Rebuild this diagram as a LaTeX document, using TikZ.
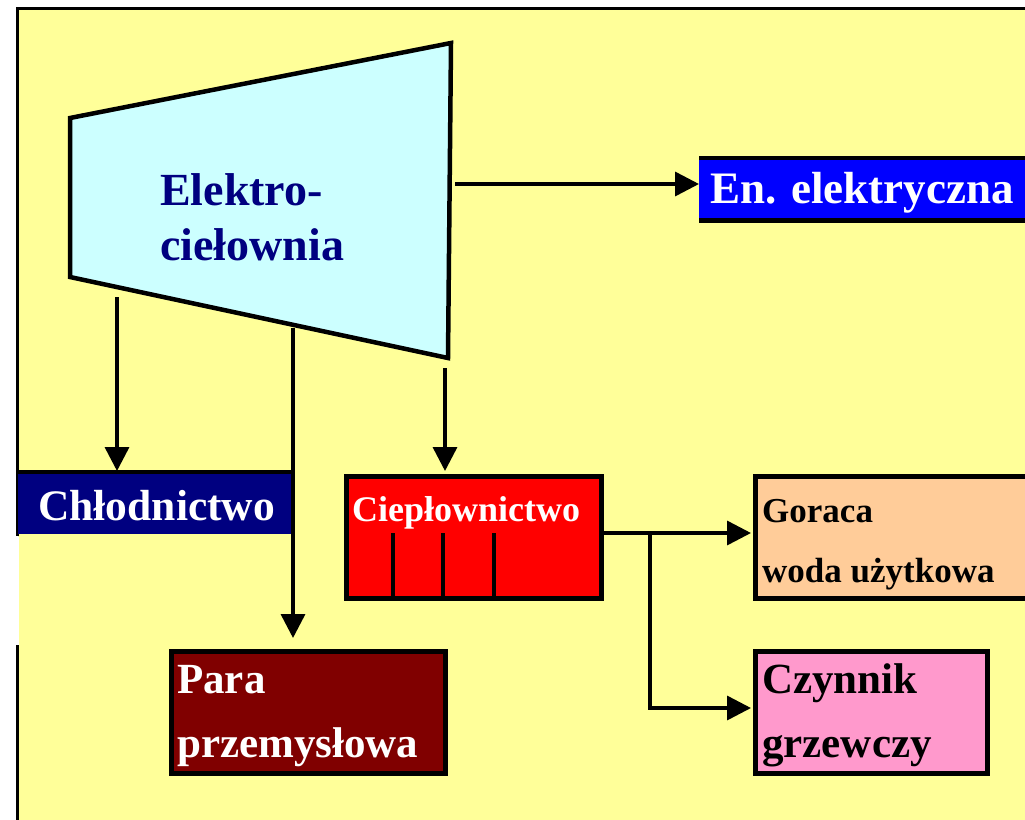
\documentclass[tikz,border=0pt]{standalone}
\usepackage{fontspec}
\setmainfont{Liberation Serif}
\usetikzlibrary{arrows.meta}

\definecolor{pagebg}{RGB}{255,255,153}
\definecolor{turbine}{RGB}{204,255,255}
\definecolor{navyblue}{RGB}{0,0,128}
\definecolor{brightblue}{RGB}{0,0,255}
\definecolor{heatred}{RGB}{255,0,0}
\definecolor{steamred}{RGB}{128,0,0}
\definecolor{peach}{RGB}{255,204,153}
\definecolor{rose}{RGB}{255,153,204}

\tikzset{
  box/.style={draw=black, line width=4.5pt, inner sep=0pt, anchor=north west},
  flat/.style={inner sep=0pt, anchor=north west},
  edge/.style={black, line width=4.5pt},
  flow/.style={black, line width=3.5pt, -{Triangle[length=24pt,width=24pt]}},
  wire/.style={black, line width=3.5pt},
  lbl/.style={inner sep=0pt, anchor=base west, font=\bfseries},
}

\begin{document}
\begin{tikzpicture}[x=1pt, y=-1pt]
  \useasboundingbox (0,0) rectangle (1025,819);
  \clip (0,0) rectangle (1025,819);
  \fill[white] (0,0) rectangle (1025,819);

  % sheet with its frame
  \fill[pagebg] (18,9) rectangle (1030,825);
  \draw[edge, line width=3.5pt] (16,8.5) -- (1030,8.5);
  \draw[black, line width=3pt] (17,7) -- (17,536);
  \draw[black, line width=3pt] (17,645) -- (17,825);
  \fill[white] (0,537) rectangle (18.5,645);

  % combined heat and power plant (trapezoid)
  \coordinate (tl) at (70,118);
  \coordinate (tr) at (451,43);
  \coordinate (br) at (448,358);
  \coordinate (bl) at (70,277);
  \draw[edge, fill=turbine, line join=miter] (tl) -- (tr) -- (br) -- (bl) -- cycle;
  \node[lbl, text=navyblue, font=\bfseries\fontsize{46}{54}\selectfont] (plant1) at (160,205) {Elektro-};
  \node[lbl, text=navyblue, font=\bfseries\fontsize{46}{54}\selectfont] (plant2) at (160,260) {ciełownia};

  % outlet points on the plant outline
  \coordinate (outE) at (455,184);
  \coordinate (outC) at (117,297);
  \coordinate (outP) at (293,328);
  \coordinate (outH) at (445,368);

  % electricity
  \node[flat, fill=brightblue, minimum width=340pt, minimum height=62pt] (en) at (699,158) {};
  \draw[edge] (en.north west) -- (en.north east);
  \draw[edge] (en.south west) -- (en.south east);
  \node[lbl, text=white, font=\bfseries\fontsize{45}{52}\selectfont] (enT) at (710,203) {En. elektryczna};

  % cooling
  \node[flat, fill=navyblue, minimum width=275pt, minimum height=62pt] (chl) at (18,472) {};
  \draw[edge] ([xshift=-2pt]chl.north west) -- (chl.north east);
  \node[lbl, text=white, font=\bfseries\fontsize{43.5}{52}\selectfont] (chlT) at (38,520) {Chłodnictwo};

  % heating
  \node[box, fill=heatred, minimum width=255pt, minimum height=122pt] (ciep) at (344,474) {};
  \node[lbl, text=white, font=\bfseries\fontsize{36}{44}\selectfont] (ciepT) at (352,521) {Ciepłownictwo};
  \coordinate (d1) at (393,533);
  \coordinate (d2) at (443,533);
  \coordinate (d3) at (494,533);
  \draw[wire] (d1) -- (d1 |- ciep.south);
  \draw[wire] (d2) -- (d2 |- ciep.south);
  \draw[wire] (d3) -- (d3 |- ciep.south);

  % hot tap water
  \node[box, fill=peach, minimum width=300pt, minimum height=122pt] (gor) at (753,474) {};
  \node[lbl, text=black, font=\bfseries\fontsize{35}{42}\selectfont] (gorT1) at (762,522) {Goraca};
  \node[lbl, text=black, font=\bfseries\fontsize{35}{42}\selectfont] (gorT2) at (762,582) {woda użytkowa};

  % heating medium
  \node[box, fill=rose, minimum width=232pt, minimum height=122pt] (czy) at (753,649) {};
  \node[lbl, text=black, font=\bfseries\fontsize{43}{52}\selectfont] (czyT1) at (762,693) {Czynnik};
  \node[lbl, text=black, font=\bfseries\fontsize{43}{52}\selectfont] (czyT2) at (762,757) {grzewczy};

  % process steam
  \node[box, fill=steamred, minimum width=274pt, minimum height=122pt] (para) at (169,649) {};
  \node[lbl, text=white, font=\bfseries\fontsize{43}{52}\selectfont] (paraT1) at (177,693) {Para};
  \node[lbl, text=white, font=\bfseries\fontsize{43}{52}\selectfont] (paraT2) at (177,757) {przemysłowa};

  % connectors
  \draw[flow] (outE) -- (outE -| en.west);
  \draw[flow] (outC) -- ([yshift=1pt]outC |- chl.north);
  \draw[flow] (outP) -- ([yshift=11pt]outP |- para.north);
  \draw[flow] (outH) -- ([yshift=3pt]outH |- ciep.north);
  \coordinate (split) at (650,533);
  \draw[flow] (split -| ciep.east) -- ([xshift=-2pt]split -| gor.west);
  \draw[wire] (split) -- (650,709.5);
  \coordinate (bend) at (650,708);
  \draw[flow] (bend) -- ([xshift=-2pt]bend -| czy.west);
\end{tikzpicture}
\end{document}
